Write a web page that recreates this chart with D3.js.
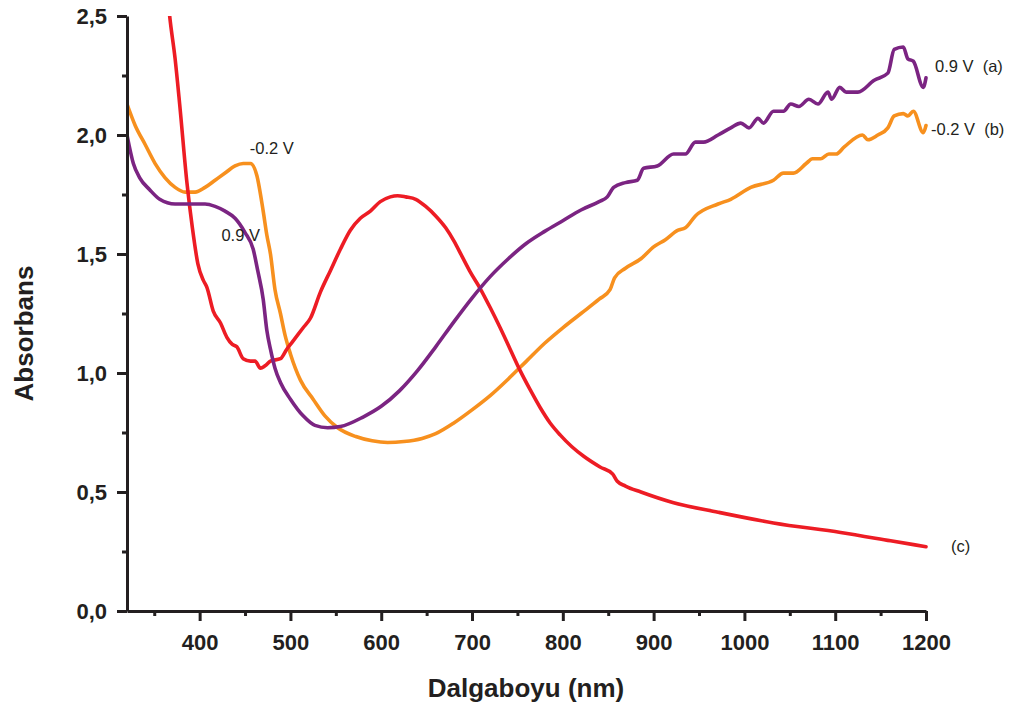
<!DOCTYPE html>
<html>
<head>
<meta charset="utf-8">
<script src="https://cdn.jsdelivr.net/npm/d3@7"></script>
<style>
  html, body { margin: 0; padding: 0; background: #fff; }
  svg { display: block; font-family: "Liberation Sans", Arial, sans-serif; }
  .note { font-size: 16.5px; fill: #231f20; white-space: pre; }
</style>
</head>
<body>
<svg id="chart" width="1014" height="708"></svg>
<script>
// Absorbance spectra (wavelength in nm, absorbance)
const wavelengthDomain = [320, 1200];
const absorbanceDomain = [0, 2.5];

const xMajorTicks = [400, 500, 600, 700, 800, 900, 1000, 1100, 1200];
const xMinorTicks = [350, 450, 550, 650, 750, 850, 950, 1050, 1150];
const yMajorTicks = [0, 0.5, 1.0, 1.5, 2.0, 2.5];
const yMinorTicks = [0.25, 0.75, 1.25, 1.75, 2.25];

// (a) 0.9 V
const seriesA = [
  [320, 2.00], [327, 1.88], [334, 1.82], [345, 1.77], [356, 1.73], [373, 1.71],
  [389, 1.71], [406, 1.71], [417, 1.70], [428, 1.68], [439, 1.65], [450, 1.59],
  [459, 1.52], [464, 1.43], [470, 1.31], [474, 1.18], [478, 1.10], [483, 1.02],
  [489, 0.96], [500, 0.89], [514, 0.82], [527, 0.78], [541, 0.77], [555, 0.775],
  [580, 0.815], [600, 0.86], [620, 0.925], [640, 1.01], [660, 1.11], [680, 1.215],
  [700, 1.315], [720, 1.405], [740, 1.48], [760, 1.545], [780, 1.595], [800, 1.64],
  [820, 1.685], [840, 1.72], [849, 1.74], [856, 1.78], [869, 1.80], [882, 1.81], [889, 1.86],
  [904, 1.87], [922, 1.92], [935, 1.92], [946, 1.97], [955, 1.97], [971, 2.00],
  [985, 2.03], [996, 2.05], [1005, 2.03], [1015, 2.07], [1021, 2.05], [1032, 2.10],
  [1043, 2.10], [1051, 2.13], [1060, 2.12], [1071, 2.15], [1081, 2.13], [1092, 2.18],
  [1096, 2.15], [1105, 2.20], [1112, 2.18], [1125, 2.18], [1143, 2.23], [1158, 2.26],
  [1165, 2.36], [1175, 2.37], [1180, 2.32], [1186, 2.31], [1197, 2.20], [1200, 2.24]
];

// (b) -0.2 V
const seriesB = [
  [320, 2.13], [329, 2.04], [340, 1.96], [351, 1.88], [362, 1.82], [373, 1.78],
  [384, 1.76], [395, 1.76], [406, 1.78], [417, 1.81], [428, 1.84], [439, 1.87],
  [448, 1.88], [456, 1.88], [463, 1.83], [470, 1.68], [474, 1.58], [478, 1.50],
  [483, 1.35], [489, 1.25], [494, 1.16], [500, 1.08], [511, 0.97], [525, 0.89],
  [538, 0.82], [552, 0.77], [572, 0.733], [590, 0.715], [607, 0.708], [625, 0.712],
  [645, 0.725], [660, 0.745], [680, 0.79], [700, 0.845], [720, 0.905], [740, 0.975],
  [760, 1.05], [780, 1.125], [800, 1.19], [820, 1.25], [840, 1.31], [852, 1.35],
  [857, 1.40], [869, 1.44], [886, 1.48],
  [900, 1.53], [913, 1.56], [927, 1.60], [935, 1.61], [946, 1.66], [971, 1.71],
  [985, 1.73], [1007, 1.78], [1032, 1.81], [1043, 1.84], [1054, 1.84], [1068, 1.88],
  [1075, 1.90], [1084, 1.90], [1093, 1.92], [1101, 1.92], [1110, 1.95], [1130, 2.00],
  [1136, 1.98], [1147, 2.00], [1158, 2.03], [1165, 2.08], [1175, 2.09], [1180, 2.08],
  [1186, 2.10], [1197, 2.01], [1200, 2.04]
];

// (c)
const seriesC = [
  [364, 2.62], [367, 2.50], [373, 2.32], [378, 2.13], [386, 1.80], [392, 1.61],
  [398, 1.46], [404, 1.39], [408, 1.36], [415, 1.26], [423, 1.21], [430, 1.15],
  [436, 1.12], [441, 1.11], [448, 1.06], [456, 1.05], [461, 1.05], [467, 1.02],
  [472, 1.03], [478, 1.05], [489, 1.06], [496, 1.10], [502, 1.13], [514, 1.19],
  [522, 1.23], [533, 1.34], [544, 1.43], [555, 1.52], [566, 1.60], [577, 1.65],
  [588, 1.68], [599, 1.72], [610, 1.74], [618, 1.745], [627, 1.74], [638, 1.73],
  [649, 1.70], [660, 1.66], [671, 1.61], [680, 1.555], [689, 1.49], [698, 1.425],
  [709, 1.355], [720, 1.275], [731, 1.19], [742, 1.10], [753, 1.01], [764, 0.93],
  [775, 0.855], [786, 0.79], [797, 0.74], [810, 0.69], [823, 0.65], [841, 0.605],
  [855, 0.575], [860, 0.545], [869, 0.525], [886, 0.50], [922, 0.455], [971, 0.415],
  [1032, 0.37], [1106, 0.33], [1161, 0.295], [1200, 0.27]
];

const notes = [
  { text: "0.9 V  (a)", x: 1200, y: 2.24, dx: 9, dy: -6 },
  { text: "-0.2 V  (b)", x: 1200, y: 2.04, dx: 5, dy: 10 },
  { text: "(c)", x: 1200, y: 0.27, dx: 25, dy: 5 },
  { text: "-0.2 V", x: 453, y: 1.88, dx: 2, dy: -10 },
  { text: "0.9 V", x: 424, y: 1.71, dx: 0, dy: 37 }
];

const svg = d3.select("#chart");
const margin = { left: 127, right: 88, top: 16, bottom: 97 };
const W = 1014, H = 708;

const x = d3.scaleLinear().domain(wavelengthDomain).range([margin.left, W - margin.right]);
const y = d3.scaleLinear().domain(absorbanceDomain).range([H - margin.bottom, margin.top]);

const ink = "#231f20";

svg.append("defs").append("clipPath").attr("id", "plot")
  .append("rect")
  .attr("x", margin.left).attr("y", margin.top)
  .attr("width", x.range()[1] - margin.left + 2)
  .attr("height", y.range()[0] - margin.top);

// curves
const line = d3.line()
  .x(d => x(d[0])).y(d => y(d[1]))
  .curve(d3.curveMonotoneX);

const curves = [
  { data: seriesB, color: "#f7901e" },
  { data: seriesC, color: "#ed1c24" },
  { data: seriesA, color: "#7b2482" }
];

const g = svg.append("g").attr("clip-path", "url(#plot)");
curves.forEach(c => {
  g.append("path")
    .datum(c.data)
    .attr("d", line)
    .attr("fill", "none")
    .attr("stroke", c.color)
    .attr("stroke-width", 3.6)
    .attr("stroke-linejoin", "round")
    .attr("stroke-linecap", "round");
});

// axes
const fmtY = d => d3.format(".1f")(d).replace(".", ",");

const xAxis = svg.append("g")
  .attr("transform", `translate(0,${y(0)})`)
  .call(d3.axisBottom(x).tickValues(xMajorTicks).tickFormat(d3.format("d"))
    .tickSize(10).tickSizeOuter(0).tickPadding(13));
const xMinor = svg.append("g")
  .attr("transform", `translate(0,${y(0)})`)
  .call(d3.axisBottom(x).tickValues(xMinorTicks).tickSize(5).tickSizeOuter(0).tickFormat(""));

const yAxis = svg.append("g")
  .attr("transform", `translate(${x(320)},0)`)
  .call(d3.axisLeft(y).tickValues(yMajorTicks).tickFormat(fmtY)
    .tickSize(10).tickSizeOuter(0).tickPadding(10));
const yMinor = svg.append("g")
  .attr("transform", `translate(${x(320)},0)`)
  .call(d3.axisLeft(y).tickValues(yMinorTicks).tickSize(5).tickSizeOuter(0).tickFormat(""));

[xAxis, xMinor, yAxis, yMinor].forEach(a => {
  a.select(".domain").attr("stroke", ink).attr("stroke-width", 3);
  a.selectAll(".tick line").attr("stroke", ink).attr("stroke-width", 3);
  a.selectAll(".tick text")
    .attr("fill", ink)
    .style("font-family", "'Liberation Sans', Arial, sans-serif")
    .style("font-size", "22px")
    .style("font-weight", "bold");
});
xMinor.select(".domain").remove();
yMinor.select(".domain").remove();

// axis titles
svg.append("text")
  .attr("x", 526).attr("y", 697)
  .attr("text-anchor", "middle")
  .attr("fill", ink)
  .style("font-size", "26px").style("font-weight", "bold")
  .text("Dalgaboyu (nm)");

svg.append("text")
  .attr("transform", `translate(33,${(y(0) + y(2.5)) / 2 + 20}) rotate(-90)`)
  .attr("text-anchor", "middle")
  .attr("fill", ink)
  .style("font-size", "26px").style("font-weight", "bold")
  .text("Absorbans");

// curve labels
svg.selectAll("text.note")
  .data(notes)
  .join("text")
  .attr("class", "note")
  .attr("x", d => x(d.x) + d.dx)
  .attr("y", d => y(d.y) + d.dy)
  .text(d => d.text);
</script>
</body>
</html>
